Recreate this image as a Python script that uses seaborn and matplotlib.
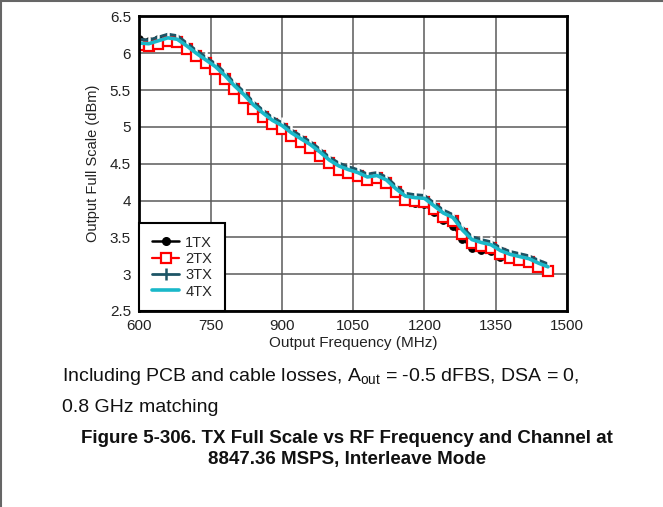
import matplotlib
matplotlib.use("Agg")
import matplotlib.pyplot as plt
from matplotlib.lines import Line2D
import seaborn as sns
import pandas as pd

# Output frequency sweep (MHz)
freq = [600, 620, 640, 660, 680, 700, 720, 740, 760, 780, 800, 820, 840, 860, 880,
        900, 920, 940, 960, 980, 1000, 1020, 1040, 1060, 1080, 1100, 1120, 1140,
        1160, 1180, 1200, 1220, 1240, 1260, 1280, 1300, 1320, 1340, 1360, 1380,
        1400, 1420, 1440, 1460]

# Output full scale (dBm) per channel
tx1 = [6.20, 6.17, 6.20, 6.22, 6.18, 6.08, 5.98, 5.89, 5.79, 5.67, 5.53, 5.41, 5.27,
       5.16, 5.06, 4.99, 4.89, 4.81, 4.73, 4.63, 4.52, 4.43, 4.38, 4.34, 4.28, 4.30,
       4.23, 4.10, 3.99, 3.97, 3.95, 3.84, 3.73, 3.66, 3.48, 3.36, 3.33, 3.31, 3.24,
       3.20, 3.18, 3.15, 3.09, 3.04]
tx2 = [6.11, 6.10, 6.13, 6.17, 6.15, 6.06, 5.96, 5.87, 5.78, 5.65, 5.51, 5.39, 5.25,
       5.14, 5.04, 4.97, 4.87, 4.79, 4.71, 4.61, 4.51, 4.42, 4.38, 4.34, 4.28, 4.30,
       4.24, 4.11, 4.01, 3.99, 3.98, 3.88, 3.78, 3.72, 3.55, 3.42, 3.38, 3.35, 3.27,
       3.22, 3.19, 3.16, 3.10, 3.04]
tx3 = [6.19, 6.18, 6.22, 6.26, 6.24, 6.14, 6.04, 5.95, 5.86, 5.74, 5.60, 5.48, 5.34,
       5.23, 5.13, 5.06, 4.96, 4.88, 4.80, 4.70, 4.59, 4.51, 4.46, 4.42, 4.36, 4.38,
       4.32, 4.20, 4.10, 4.08, 4.07, 3.97, 3.87, 3.81, 3.64, 3.51, 3.47, 3.44, 3.36,
       3.31, 3.28, 3.25, 3.19, 3.14]
tx4 = [6.14, 6.13, 6.17, 6.21, 6.19, 6.10, 6.00, 5.91, 5.82, 5.70, 5.56, 5.44, 5.30,
       5.19, 5.09, 5.02, 4.92, 4.84, 4.76, 4.66, 4.55, 4.47, 4.42, 4.38, 4.32, 4.34,
       4.28, 4.16, 4.06, 4.04, 4.03, 3.93, 3.83, 3.77, 3.60, 3.47, 3.43, 3.40, 3.32,
       3.27, 3.24, 3.21, 3.15, 3.10]

channels = ["1TX", "2TX", "3TX", "4TX"]
x_ticks = [600, 750, 900, 1050, 1200, 1350, 1500]
y_ticks = [2.5, 3, 3.5, 4, 4.5, 5, 5.5, 6, 6.5]
y_ticklabels = ["2.5", "3", "3.5", "4", "4.5", "5", "5.5", "6", "6.5"]

sns.set_style("white")
plt.rcParams["font.family"] = ["Liberation Sans", "DejaVu Sans"]
plt.rcParams["mathtext.fontset"] = "custom"
plt.rcParams["mathtext.rm"] = "Liberation Sans"
plt.rcParams["mathtext.it"] = "Liberation Sans"

fig = plt.figure(figsize=(6.63, 5.07), dpi=100)
ax = fig.add_axes([0.2101, 0.3866, 0.6451, 0.5809])

styles = {
    "1TX": dict(color="black", marker="o", markersize=5.5, markerfacecolor="black",
                markeredgecolor="black", linewidth=1.8),
    "2TX": dict(color="#ff0000", marker="s", markersize=6.5, markerfacecolor="white",
                markeredgecolor="#ff0000", markeredgewidth=1.6, linewidth=1.6),
    "3TX": dict(color="#1d5566", marker="|", markersize=9, markeredgewidth=1.8,
                linewidth=2.0),
    "4TX": dict(color="#1ab8c9", linewidth=2.6),
}
series = dict(zip(channels, [tx1, tx2, tx3, tx4]))

for name in channels:
    df = pd.DataFrame({"freq": freq, "fs": series[name]})
    sns.lineplot(data=df, x="freq", y="fs", ax=ax, label=name, **styles[name])

ax.set_xlim(600, 1500)
ax.set_ylim(2.5, 6.5)
ax.set_xticks(x_ticks)
ax.set_xticklabels([str(t) for t in x_ticks])
ax.set_yticks(y_ticks)
ax.set_yticklabels(y_ticklabels)
ax.tick_params(length=0, labelsize=11, pad=6, colors="#222222")
ax.grid(True, color="#5a5a5a", linewidth=1.1)
ax.set_axisbelow(True)
for s in ax.spines.values():
    s.set_visible(True)
    s.set_color("black")
    s.set_linewidth(2)

ax.set_xlabel("Output Frequency (MHz)", fontsize=11, labelpad=2, color="#222222")
ax.set_ylabel("Output Full Scale (dBm)", fontsize=10.5, labelpad=7, color="#222222")

handles = [
    Line2D([], [], **styles["1TX"]),
    Line2D([], [], **styles["2TX"]),
    Line2D([], [], **styles["3TX"]),
    Line2D([], [], **styles["4TX"]),
]
leg = ax.legend(handles, channels, loc="lower left", bbox_to_anchor=(0.0, 0.0),
                fontsize=10.5, frameon=True, fancybox=False, borderaxespad=0.0,
                handlelength=1.9, handletextpad=0.4, labelspacing=0.16,
                borderpad=0.85)
leg.get_frame().set_edgecolor("black")
leg.get_frame().set_linewidth(1.5)
leg.get_frame().set_alpha(1)

fig.text(0.094, 0.258,
         r"Including PCB and cable losses, A$_{\mathrm{out}}$ = -0.5 dFBS, DSA = 0,",
         fontsize=14, color="#111111", va="center", ha="left")
fig.text(0.094, 0.196, "0.8 GHz matching", fontsize=14, color="#111111",
         va="center", ha="left")
fig.text(0.523, 0.136, "Figure 5-306. TX Full Scale vs RF Frequency and Channel at",
         fontsize=13.5, fontweight="bold", ha="center", va="center", color="#111111")
fig.text(0.523, 0.094, "8847.36 MSPS, Interleave Mode",
         fontsize=13.5, fontweight="bold", ha="center", va="center", color="#111111")

# page frame on the top and left edges
fig.add_artist(Line2D([0, 1], [0.998, 0.998], transform=fig.transFigure,
                      color="#666666", linewidth=1.5))
fig.add_artist(Line2D([0.002, 0.002], [0, 1], transform=fig.transFigure,
                      color="#666666", linewidth=1.5))

fig.savefig("out.png", dpi=100)
